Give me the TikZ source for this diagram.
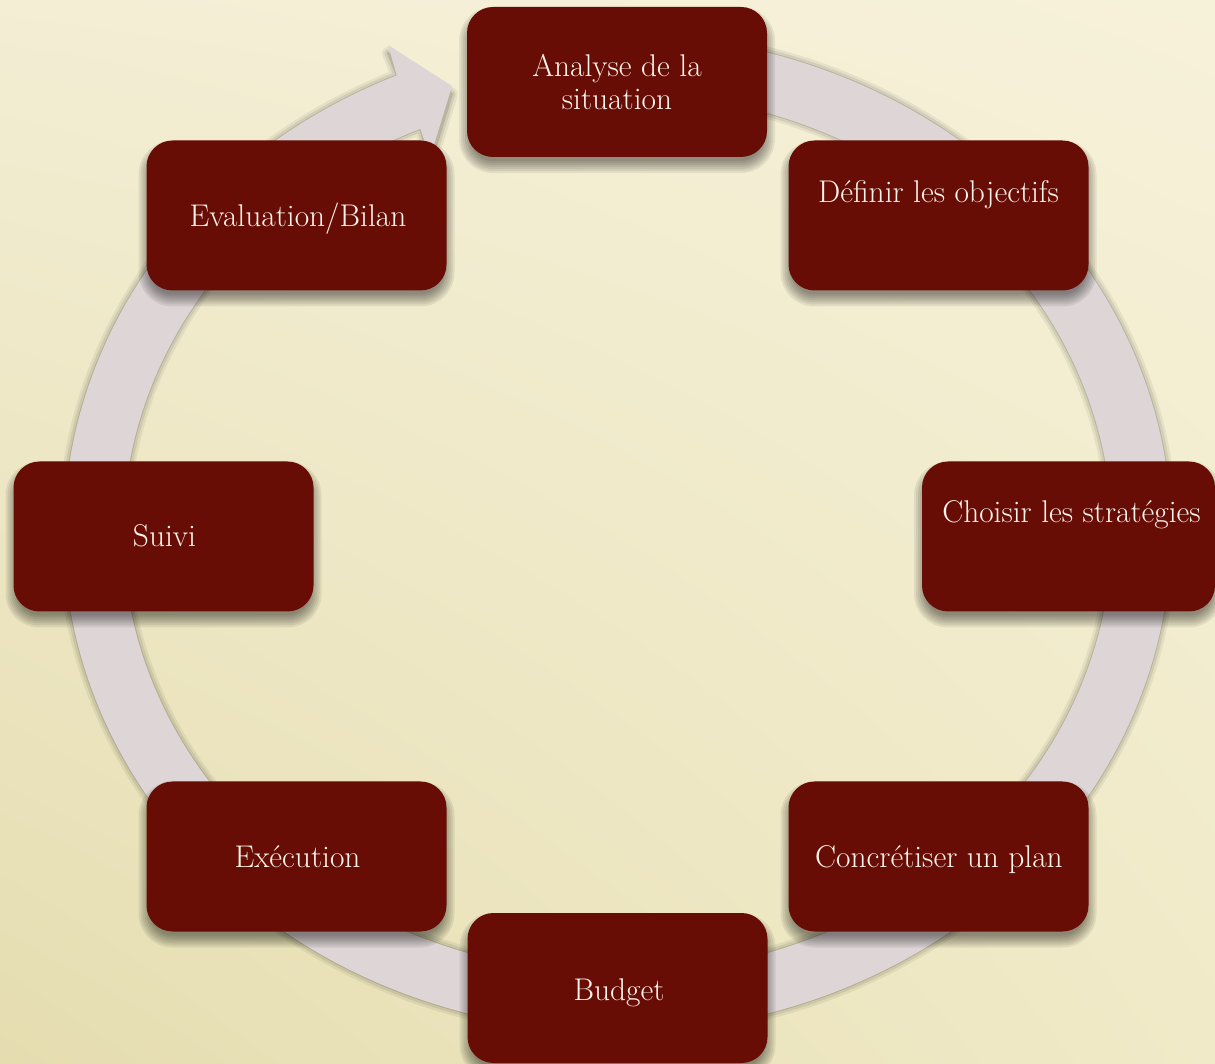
\documentclass[tikz,border=0pt]{standalone}
\usepackage{fontspec}
\usetikzlibrary{calc,shadings}
\definecolor{boxred}{RGB}{104,13,5}
\definecolor{ringc}{RGB}{222,214,214}
\definecolor{txtc}{RGB}{250,244,236}
\definecolor{bgUL}{RGB}{243,238,212}
\definecolor{bgUR}{RGB}{246,241,217}
\definecolor{bgLL}{RGB}{229,221,176}
\definecolor{bgLR}{RGB}{240,234,200}
\tikzset{
  box/.style={draw=none, fill=boxred, rounded corners=26pt, minimum width=300pt,
    minimum height=150pt, inner sep=0pt},
  lbl/.style={text=txtc, font=\fontsize{31.4}{32.6}\selectfont, anchor=base, align=center, inner sep=0pt},
}
\newcommand{\ringpath}{($(O)+(80:553.5 and 499)$)
  arc[start angle=80, end angle=-246.5, x radius=553.5, y radius=499]
  -- (388,1018) -- (452,977) -- (430,905)
  -- ($(O)+(-246.5:494.3 and 440.8)$)
  arc[start angle=-246.5, end angle=80, x radius=494.3, y radius=440.8] -- cycle}
\newcommand{\boxshadow}[3]{% center x, center y, width
  \foreach \e in {8,6,...,-4}{%
    \pgfmathsetmacro\rc{26+\e}%
    \fill[black, opacity=0.07, rounded corners=\rc pt]
      ({#1-#3/2-\e},{#2-75-8-\e}) rectangle ({#1+#3/2+\e},{#2+75-8+\e});}}
\begin{document}
\begin{tikzpicture}[x=1pt, y=1pt]
\useasboundingbox (0,0) rectangle (1215,1063);
\clip (0,0) rectangle (1215,1063);
\shade[upper left=bgUL, upper right=bgUR, lower left=bgLL, lower right=bgLR]
  (0,0) rectangle (1215,1063);
\coordinate (O) at (617.5,530);
% ring shadow
\foreach \w/\op in {12/0.06, 7/0.08, 2/0.12}{
  \begin{scope}[transparency group, opacity=\op, shift={(0,-8)}]
    \path[fill=black, draw=black, line width=\w pt, line join=round] \ringpath;
  \end{scope}}
% ring arrow
\fill[ringc] \ringpath;
% box shadows
\boxshadow{617}{981}{300}
\boxshadow{938.5}{847.5}{300}
\boxshadow{1068.5}{526.5}{293}
\boxshadow{938.5}{206.5}{300}
\boxshadow{617.5}{75}{300}
\boxshadow{296.5}{206.5}{300}
\boxshadow{163.5}{526.5}{300}
\boxshadow{296.5}{847.5}{300}
% boxes
\node[box] (ana) at (617,981) {};
\node[box] (def) at (938.5,847.5) {};
\node[box, minimum width=293pt] (cho) at (1068.5,526.5) {};
\node[box] (con) at (938.5,206.5) {};
\node[box] (bud) at (617.5,75) {};
\node[box] (exe) at (296.5,206.5) {};
\node[box] (sui) at (163.5,526.5) {};
\node[box] (eva) at (296.5,847.5) {};
% labels
\node[lbl] (anat) at (617,953.7) {Analyse de la\\situation};
\node[lbl] (deft) at (938.5,860) {Définir les objectifs};
\node[lbl] (chot) at (1071.5,540.3) {Choisir les stratégies};
\node[lbl] (cont) at (939,195) {Concrétiser un plan};
\node[lbl] (budt) at (619,62.3) {Budget};
\node[lbl] (exet) at (297.5,195) {Exécution};
\node[lbl] (suit) at (164.5,516) {Suivi};
\node[lbl] (evat) at (298,836) {Evaluation/Bilan};
\end{tikzpicture}
\end{document}
